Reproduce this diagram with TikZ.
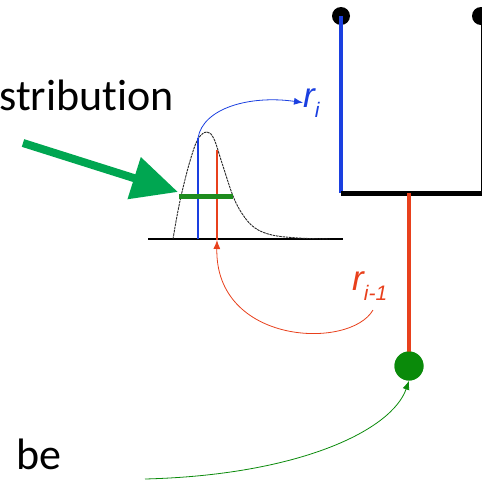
\documentclass[tikz,border=0pt]{standalone}
\usepackage{fontspec}
\setmainfont[Ligatures={NoCommon}]{Carlito}
\newfontfamily\labelfont{Liberation Sans}
\usetikzlibrary{arrows.meta, positioning}
\definecolor{treeblue}{HTML}{1A3FE0}
\definecolor{treered}{HTML}{E8401C}
\definecolor{markgreen}{HTML}{00A651}
\definecolor{bargreen}{HTML}{1E8C1E}
\definecolor{dotgreen}{HTML}{0A8A0A}
\tikzset{
  caption/.style={inner sep=0pt, font=\fontsize{44}{50}\selectfont},
  rlabel/.style={inner sep=0pt, font=\labelfont\itshape\fontsize{35}{40}\selectfont},
  branch/.style={line width=4pt},
  leafdot/.style={circle, fill=black, inner sep=0pt, minimum size=18pt},
  rootdot/.style={circle, fill=dotgreen, inner sep=0pt, minimum size=29pt},
  density/.style={black!85, line width=0.9pt, dash pattern=on 2.5pt off 0.8pt},
  sample/.style={line width=1.1pt},
  thinarrow/.style={-{Latex[length=9pt,width=7pt]}, line width=0.8pt},
  bigarrow/.style={-{Triangle[length=46pt,width=42pt]}, line width=8pt, color=markgreen},
}
\newcommand{\subtxt}[1]{\raisebox{-10pt}{\fontsize{21}{22}\selectfont #1}}

\begin{document}
\begin{tikzpicture}[x=1pt, y=-1pt]
  \clip (0,0) rectangle (482,483);

  % texts
  \node[caption, anchor=base east] (dist) at (174,110) {stribution};
  \node[caption, anchor=base west] (be) at (16,469) {be};

  % tree
  \node[leafdot] (leafA) at (341,16) {};
  \node[leafdot] (leafB) at (481,16) {};
  \coordinate (joinA) at (341,193);
  \coordinate (joinB) at (482,193);
  \coordinate (joinR) at (409,193);
  \node[rootdot] (root) at (409,366) {};
  \draw[black, line width=1pt] (leafB) -- (481,193);
  \draw[branch, treeblue] (leafA.center) -- (joinA);
  \draw[black, line width=5pt] (joinA) -- (joinB);
  \draw[branch, treered] (joinR) -- (root.center);
  \node[rootdot] at (root) {};

  % density
  \coordinate (axisL) at (148,239);
  \coordinate (axisR) at (343,239);
  \draw[black, line width=1.1pt] (axisL) -- (axisR);
  \draw[density] plot[smooth, tension=0.6] coordinates {
    (173,239) (177,216) (182,192) (190,161) (198,139) (207,132) (214,139)
    (222,163) (233,196) (243,215) (255,228) (272,235) (298,238) (330,239)};
  \coordinate (blueTop) at (198,138);
  \coordinate (blueFoot) at (198,239);
  \coordinate (redTop) at (217,150);
  \coordinate (redFoot) at (217,240);
  \draw[sample, treeblue] (blueTop) -- (blueFoot);
  \draw[sample, treered] (redTop) -- (redFoot);
  \coordinate (barL) at (179,196);
  \coordinate (barR) at (233,196);
  \draw[bargreen, line width=5pt] (barL) -- (barR);

  % labels
  \node[rlabel, treeblue, anchor=base west] (ri) at (303,107) {r\subtxt{i}};
  \node[rlabel, treered, anchor=base west] (rprev) at (352,290) {r\subtxt{i-1}};

  % connectors
  \draw[thinarrow, treeblue] (blueTop) .. controls (203,108) and (250,95) .. (ri.west);
  \coordinate (rtail) at (373,310);
  \draw[thinarrow, treered] (rtail) .. controls (350,350) and (215,345) .. (redFoot);
  \coordinate (gtail) at (145,479);
  \draw[thinarrow, dotgreen] (gtail) .. controls (300,475) and (392,430) .. (root.south);
  \coordinate (ptail) at (23,143);
  \coordinate (ptip) at (178,192);
  \draw[bigarrow] (ptail) -- (ptip);
\end{tikzpicture}
\end{document}
